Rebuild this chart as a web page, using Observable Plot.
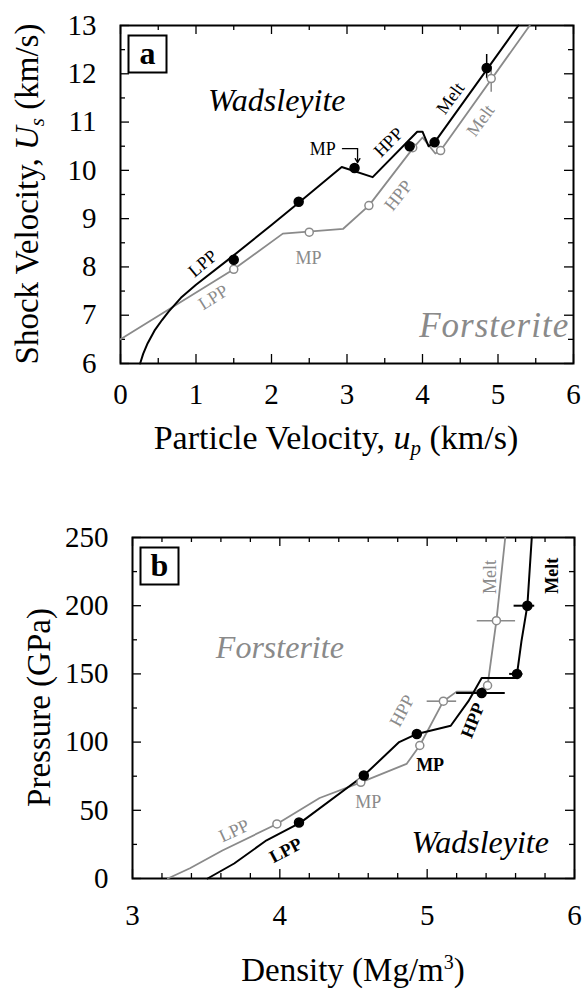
<!DOCTYPE html>
<html><head><meta charset="utf-8">
<script src="https://cdn.jsdelivr.net/npm/d3@7"></script>
<script src="https://cdn.jsdelivr.net/npm/@observablehq/plot@0.6"></script>
<style>body{margin:0;background:#fff;} svg{display:block;}</style>
</head><body><div id="chart"></div>
<script>
// ---------- Panel a data: shock velocity vs particle velocity ----------
const aWadsUp = [0.26,0.30,0.36,0.45,0.55,0.64,0.80,1.00,1.50,2.00,2.36,2.93,3.34,3.93,4.00,4.08,4.16,5.27];
const aWadsUs = [6.00,6.20,6.42,6.68,6.90,7.08,7.36,7.63,8.24,8.87,9.33,10.07,9.86,10.80,10.80,10.50,10.58,13.00];
const aWadsPtUp = [1.50,2.36,3.10,3.83,4.16,4.85];
const aWadsPtUs = [8.15,9.35,10.05,10.50,10.58,12.12];
const aForsUp = [0.00,1.50,2.15,2.95,3.29,3.87,4.00,4.17,4.24,5.42];
const aForsUs = [6.50,7.95,8.69,8.79,9.27,10.45,10.68,10.35,10.41,13.00];
const aForsPtUp = [1.50,2.50,3.29,3.87,4.24,4.91];
const aForsPtUs = [7.95,8.72,9.27,10.47,10.41,11.90];
const aErrUp = [4.85,4.91];
const aErrLo = [11.90,11.62];
const aErrHi = [12.40,12.15];
const aXTicks = [0,1,2,3,4,5,6];
const aXMinor = [0.5,1.5,2.5,3.5,4.5,5.5];
const aYTicks = [6,7,8,9,10,11,12,13];
const aYMinor = [6.5,7.5,8.5,9.5,10.5,11.5,12.5];
// labels (text, x, y, rotate, colour group)
const aLabText = ["LPP","LPP","MP","HPP","MP","HPP","Melt","Melt"];
const aLabX    = [1.09,1.23,2.49,3.68,2.68,3.55,4.37,4.77];
const aLabY    = [8.07,7.37,8.17,9.48,10.43,10.58,11.49,11.03];
const aLabRot  = [-40,-32,0,-52,0,-45,-54,-54];
const aLabGrp  = ["w","f","f","f","w","w","w","f"];

// ---------- Panel b data: pressure vs density ----------
const bWadsRho = [3.51,3.69,3.91,4.14,4.57,4.81,4.93,5.16,5.28,5.37,5.60,5.61,5.64,5.68,5.71];
const bWadsP   = [0,11,28,41,75.5,100,106,112,130,147,147,150,174,200,250];
const bWadsPtRho = [4.13,4.57,4.93,5.37,5.61,5.68];
const bWadsPtP   = [41,75.5,106,136,150,200];
const bForsRho = [3.24,3.39,3.61,3.98,4.27,4.55,4.86,4.95,5.11,5.20,5.33,5.41,5.47,5.53];
const bForsP   = [0,7.5,20.5,40,59,70.5,84,97.5,130,137,137,141.5,189,250];
const bForsPtRho = [3.98,4.55,4.95,5.11,5.41,5.47];
const bForsPtP   = [40,70.5,97.5,130,141.5,189];
const bWadsErrP = [136,150,200];
const bWadsErrLo = [5.20,5.56,5.59];
const bWadsErrHi = [5.53,5.65,5.73];
const bForsErrP = [130,189];
const bForsErrLo = [5.00,5.34];
const bForsErrHi = [5.20,5.60];
const bXTicks = [3,4,5,6];
const bXMinor = [3.2,3.4,3.6,3.8,4.2,4.4,4.6,4.8,5.2,5.4,5.6,5.8];
const bYTicks = [0,50,100,150,200,250];
const bYMinor = [25,75,125,175,225];
const bLabText = ["LPP","LPP","MP","MP","HPP","HPP","Melt","Melt"];
const bLabX    = [3.69,4.04,4.60,5.02,4.83,5.31,5.43,5.85];
const bLabY    = [35,20.5,56,83,123,116,221,222];
const bLabRot  = [-25,-28,0,0,-62,-68,-90,-90];
const bLabGrp  = ["f","w","f","w","f","w","f","w"];

// ---------- helpers ----------
const GRAY = "#8a8a8a";
const SERIF = "'Liberation Serif', 'Times New Roman', Times, serif";
const W = 585;
const pts = (xs, ys) => xs.map((x, i) => ({x, y: ys[i]}));
const labs = (t, xs, ys, r, g) => t.map((text, i) => ({text, x: xs[i], y: ys[i], rotate: r[i], g: g[i]}));

function frameTicks(xMaj, xMin, yMaj, yMin, iw, ih) {
  const L = 9, S = 5, sw = 1.3;
  return [
    Plot.tickX(xMaj, {x: d => d, insetTop: ih - L, stroke: "black", strokeWidth: sw}),
    Plot.tickX(xMaj, {x: d => d, insetBottom: ih - L, stroke: "black", strokeWidth: sw}),
    Plot.tickX(xMin, {x: d => d, insetTop: ih - S, stroke: "black", strokeWidth: sw}),
    Plot.tickX(xMin, {x: d => d, insetBottom: ih - S, stroke: "black", strokeWidth: sw}),
    Plot.tickY(yMaj, {y: d => d, insetRight: iw - L, stroke: "black", strokeWidth: sw}),
    Plot.tickY(yMaj, {y: d => d, insetLeft: iw - L, stroke: "black", strokeWidth: sw}),
    Plot.tickY(yMin, {y: d => d, insetRight: iw - S, stroke: "black", strokeWidth: sw}),
    Plot.tickY(yMin, {y: d => d, insetLeft: iw - S, stroke: "black", strokeWidth: sw})
  ];
}

function labelMarks(list, boldW) {
  return [
    Plot.text(list.filter(d => d.g === "f"), {x: "x", y: "y", text: "text", rotate: "rotate", fill: GRAY, fontSize: 18, fontFamily: SERIF}),
    Plot.text(list.filter(d => d.g === "w"), {x: "x", y: "y", text: "text", rotate: "rotate", fill: "black", fontSize: 18, fontFamily: SERIF, fontWeight: boldW ? "bold" : "normal"})
  ];
}

// ---------- Panel a ----------
const aM = {top: 25, right: 12, bottom: 107, left: 120}, aH = 470;
const aIW = W - aM.left - aM.right, aIH = aH - aM.top - aM.bottom;
const plotA = Plot.plot({
  width: W, height: aH,
  marginTop: aM.top, marginRight: aM.right, marginBottom: aM.bottom, marginLeft: aM.left,
  x: {domain: [0, 6]}, y: {domain: [6, 13]},
  style: {fontFamily: SERIF, fontSize: "29px", color: "black", background: "white", overflow: "visible"},
  marks: [
    Plot.axisX({ticks: aXTicks, tickSize: 0, tickPadding: 20, label: null, tickFormat: d => String(d)}),
    Plot.axisY({ticks: aYTicks, tickSize: 0, tickPadding: 24, label: null, tickFormat: d => String(d)}),
    ...frameTicks(aXTicks, aXMinor, aYTicks, aYMinor, aIW, aIH),
    Plot.frame({stroke: "black", strokeWidth: 2}),
    Plot.line(pts(aForsUp, aForsUs), {x: "x", y: "y", stroke: GRAY, strokeWidth: 1.8}),
    Plot.line(pts(aWadsUp, aWadsUs), {x: "x", y: "y", stroke: "black", strokeWidth: 2}),
    Plot.ruleX(aErrUp.map((x, i) => ({x, lo: aErrLo[i], hi: aErrHi[i]})), {x: "x", y1: "lo", y2: "hi", stroke: (d, i) => i === 0 ? "black" : GRAY, strokeWidth: 1.5}),
    Plot.dot(pts(aForsPtUp, aForsPtUs), {x: "x", y: "y", r: 4, stroke: GRAY, fill: "white", strokeWidth: 1.5}),
    Plot.dot(pts(aWadsPtUp, aWadsPtUs), {x: "x", y: "y", r: 4.5, fill: "black", stroke: "black"}),
    // MP pointer arrow
    Plot.line([{x: 2.94, y: 10.45}, {x: 3.14, y: 10.45}], {x: "x", y: "y", stroke: "black", strokeWidth: 1.3}),
    Plot.arrow([{x1: 3.14, y1: 10.45, x2: 3.14, y2: 10.16}], {x1: "x1", y1: "y1", x2: "x2", y2: "y2", stroke: "black", strokeWidth: 1.3, headLength: 7}),
    ...labelMarks(labs(aLabText, aLabX, aLabY, aLabRot, aLabGrp), false),
    Plot.text([{t: "Wadsleyite", x: 2.07, y: 11.45}], {x: "x", y: "y", text: "t", fontSize: 32, fontStyle: "italic", fill: "black", fontFamily: SERIF}),
    Plot.text([{t: "Forsterite", x: 4.95, y: 6.79}], {x: "x", y: "y", text: "t", fontSize: 35, fontStyle: "italic", fill: GRAY, fontFamily: SERIF})
  ]
});

// ---------- Panel b ----------
const bM = {top: 67, right: 11, bottom: 112, left: 132}, bH = 520;
const bIW = W - bM.left - bM.right, bIH = bH - bM.top - bM.bottom;
const plotB = Plot.plot({
  width: W, height: bH,
  marginTop: bM.top, marginRight: bM.right, marginBottom: bM.bottom, marginLeft: bM.left,
  x: {domain: [3, 6]}, y: {domain: [0, 250]},
  style: {fontFamily: SERIF, fontSize: "29px", color: "black", background: "white", overflow: "visible"},
  marks: [
    Plot.axisX({ticks: bXTicks, tickSize: 0, tickPadding: 26, label: null, tickFormat: d => String(d)}),
    Plot.axisY({ticks: bYTicks, tickSize: 0, tickPadding: 24, label: null, tickFormat: d => String(d)}),
    ...frameTicks(bXTicks, bXMinor, bYTicks, bYMinor, bIW, bIH),
    Plot.frame({stroke: "black", strokeWidth: 2}),
    Plot.line(pts(bForsRho, bForsP), {x: "x", y: "y", stroke: GRAY, strokeWidth: 1.8}),
    Plot.line(pts(bWadsRho, bWadsP), {x: "x", y: "y", stroke: "black", strokeWidth: 2}),
    Plot.ruleY(bForsErrP.map((y, i) => ({y, lo: bForsErrLo[i], hi: bForsErrHi[i]})), {y: "y", x1: "lo", x2: "hi", stroke: GRAY, strokeWidth: 1.6}),
    Plot.ruleY(bWadsErrP.map((y, i) => ({y, lo: bWadsErrLo[i], hi: bWadsErrHi[i]})), {y: "y", x1: "lo", x2: "hi", stroke: "black", strokeWidth: 2}),
    Plot.dot(pts(bForsPtRho, bForsPtP), {x: "x", y: "y", r: 4, stroke: GRAY, fill: "white", strokeWidth: 1.5}),
    Plot.dot(pts(bWadsPtRho, bWadsPtP), {x: "x", y: "y", r: 4.5, fill: "black", stroke: "black"}),
    ...labelMarks(labs(bLabText, bLabX, bLabY, bLabRot, bLabGrp), true),
    Plot.text([{t: "Forsterite", x: 4.0, y: 169}], {x: "x", y: "y", text: "t", fontSize: 32, fontStyle: "italic", fill: GRAY, fontFamily: SERIF}),
    Plot.text([{t: "Wadsleyite", x: 5.36, y: 26}], {x: "x", y: "y", text: "t", fontSize: 32, fontStyle: "italic", fill: "black", fontFamily: SERIF})
  ]
});

// ---------- decorations: panel letters and axis titles ----------
function panelBox(svg, m, letter) {
  const g = svg.append("g");
  g.append("rect").attr("x", m.left + 8.5).attr("y", m.top + 10.5).attr("width", 38).attr("height", 37)
    .attr("fill", "white").attr("stroke", "black").attr("stroke-width", 2);
  g.append("text").attr("x", m.left + 27.5).attr("y", m.top + 39).attr("text-anchor", "middle")
    .attr("font-family", SERIF).attr("font-size", 32).attr("font-weight", "bold").text(letter);
}
const sA = d3.select(plotA), sB = d3.select(plotB);
panelBox(sA, aM, "a");
panelBox(sB, bM, "b");
// slightly spaced lettering for the grey Forsterite tag in panel a
sA.selectAll("text").filter(function() { return this.textContent === "Forsterite"; }).attr("letter-spacing", 1);

const TITLE = 33;
// panel a x title
{
  const t = sA.append("text").attr("x", 336).attr("y", 449)
    .attr("text-anchor", "middle").attr("font-family", SERIF).attr("font-size", 34).attr("fill", "black");
  t.append("tspan").text("Particle Velocity, ");
  t.append("tspan").attr("font-style", "italic").text("u");
  t.append("tspan").attr("font-style", "italic").attr("font-size", 21).attr("dy", 6).text("p");
  t.append("tspan").attr("dy", -6).text(" (km/s)");
}
// panel a y title
{
  const t = sA.append("text").attr("transform", `translate(38,${(aM.top + aH - aM.bottom) / 2}) rotate(-90)`)
    .attr("text-anchor", "middle").attr("font-family", SERIF).attr("font-size", TITLE).attr("fill", "black");
  t.append("tspan").text("Shock Velocity, ");
  t.append("tspan").attr("font-style", "italic").text("U");
  t.append("tspan").attr("font-style", "italic").attr("font-size", 21).attr("dy", 6).text("s");
  t.append("tspan").attr("dy", -6).text(" (km/s)");
}
// panel b x title
{
  const t = sB.append("text").attr("x", (bM.left + W - bM.right) / 2).attr("y", 511)
    .attr("text-anchor", "middle").attr("font-family", SERIF).attr("font-size", TITLE).attr("fill", "black");
  t.append("tspan").text("Density (Mg/m");
  t.append("tspan").attr("font-size", 20).attr("dy", -12).text("3");
  t.append("tspan").attr("dy", 12).text(")");
}
// panel b y title
{
  const t = sB.append("text").attr("transform", `translate(50,${(bM.top + bH - bM.bottom) / 2}) rotate(-90)`)
    .attr("text-anchor", "middle").attr("font-family", SERIF).attr("font-size", TITLE).attr("fill", "black");
  t.text("Pressure (GPa)");
}

document.getElementById("chart").append(plotA, plotB);
</script></body></html>
